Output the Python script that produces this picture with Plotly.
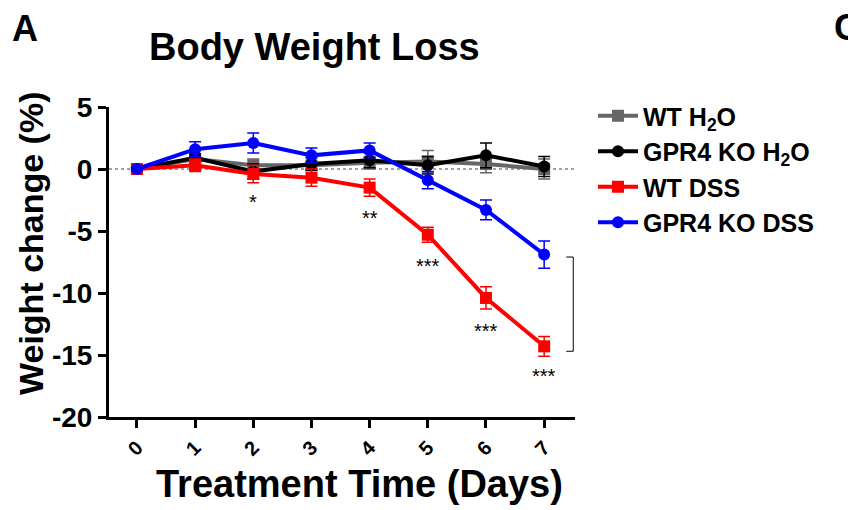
import plotly.graph_objects as go

days = [0, 1, 2, 3, 4, 5, 6, 7]
tick_labels = ["0", "1", "2", "3", "4", "5", "6", "7"]
y_ticks = [5, 0, -5, -10, -15, -20]
y_tick_labels = ["5", "0", "-5", "-10", "-15", "-20"]

wt_h2o = [0.0, 0.8, 0.3, 0.3, 0.5, 0.6, 0.4, 0.0]
wt_h2o_err = [0.1, 0.3, 0.5, 0.3, 0.5, 0.9, 0.7, 0.8]
ko_h2o = [0.0, 0.9, -0.2, 0.4, 0.7, 0.3, 1.1, 0.2]
ko_h2o_err = [0.1, 0.3, 0.6, 0.5, 0.6, 0.7, 1.0, 0.8]
wt_dss = [0.0, 0.3, -0.4, -0.7, -1.5, -5.3, -10.4, -14.3]
wt_dss_err = [0.2, 0.5, 0.7, 0.7, 0.7, 0.6, 0.9, 0.8]
ko_dss = [0.0, 1.6, 2.1, 1.1, 1.5, -0.9, -3.3, -6.9]
ko_dss_err = [0.1, 0.6, 0.8, 0.6, 0.6, 0.7, 0.8, 1.1]

sig_days = [2, 4, 5, 6, 7]
sig_y = [-2.7, -3.95, -7.8, -13.1, -16.7]
sig_text = ["*", "**", "***", "***", "***"]

FONT = "Liberation Sans, Arial, sans-serif"

series = [
    ("WT H<sub>2</sub>O", wt_h2o, wt_h2o_err, "#666666", "square"),
    ("GPR4 KO H<sub>2</sub>O", ko_h2o, ko_h2o_err, "#000000", "circle"),
    ("WT DSS", wt_dss, wt_dss_err, "#ff0000", "square"),
    ("GPR4 KO DSS", ko_dss, ko_dss_err, "#0000ff", "circle"),
]

# plot area in pixels
L, R, T, B = 109, 575, 107, 417
W, H = R - L, B - T


def px(xp):
    return (xp - L) / W


def py(yp):
    return (B - yp) / H


fig = go.Figure()
for name, vals, errs, color, sym in series:
    fig.add_trace(go.Scatter(
        x=days, y=vals, name=name, mode="lines+markers",
        line=dict(color=color, width=4),
        marker=dict(color=color, symbol=sym, size=12),
        error_y=dict(type="data", array=errs, visible=True, color=color, thickness=1.5, width=6),
    ))

# zero dotted line
fig.add_shape(type="line", xref="paper", x0=0, x1=1, yref="y", y0=0, y1=0,
              line=dict(color="#444444", width=1, dash="dot"), layer="below")

# significance stars
for d, yv, t in zip(sig_days, sig_y, sig_text):
    fig.add_annotation(x=d, y=yv, text=t, showarrow=False,
                       font=dict(family=FONT, size=20, color="black"))

# bracket at day 7
fig.add_shape(type="path", xref="x", yref="y",
              path="M 7.38,-7.1 L 7.5,-7.1 L 7.5,-14.7 L 7.38,-14.7",
              line=dict(color="black", width=1))

fig.update_layout(
    width=848, height=510,
    margin=dict(l=L, r=848 - R, t=T, b=510 - B, autoexpand=False),
    paper_bgcolor="white", plot_bgcolor="white",
    font=dict(family=FONT, color="black"),
    showlegend=True,
    legend=dict(x=px(593), y=py(93), xanchor="left", yanchor="top",
                font=dict(family=FONT, size=25, color="black", weight="bold"),
                bgcolor="rgba(0,0,0,0)", tracegroupgap=0, itemwidth=40),
)

fig.update_xaxes(
    range=[-0.48, 7.53], tickvals=days, ticktext=tick_labels, tickangle=-45,
    showline=True, linecolor="black", linewidth=3, mirror=False,
    ticks="outside", ticklen=8, tickwidth=3, tickcolor="black",
    showgrid=False, zeroline=False, automargin=False,
    tickfont=dict(family=FONT, size=20, color="black", weight="bold"),
)
fig.update_yaxes(
    range=[-20, 5], tickvals=y_ticks, ticktext=y_tick_labels,
    showline=True, linecolor="black", linewidth=3,
    ticks="outside", ticklen=8, tickwidth=3, tickcolor="black",
    showgrid=False, zeroline=False, automargin=False,
    tickfont=dict(family=FONT, size=28, color="black", weight="bold"),
)

# titles as annotations
fig.add_annotation(xref="paper", yref="paper", x=px(314), y=py(47),
                   text="<b>Body Weight Loss</b>", showarrow=False,
                   xanchor="center", yanchor="middle",
                   font=dict(family=FONT, size=38, color="black"))
fig.add_annotation(xref="paper", yref="paper", x=px(359), y=py(484),
                   text="<b>Treatment Time (Days)</b>", showarrow=False,
                   xanchor="center", yanchor="middle",
                   font=dict(family=FONT, size=38, color="black"))
fig.add_annotation(xref="paper", yref="paper", x=px(31), y=py(243),
                   text="<b>Weight change (%)</b>", showarrow=False, textangle=-90,
                   xanchor="center", yanchor="middle",
                   font=dict(family=FONT, size=34, color="black"))
fig.add_annotation(xref="paper", yref="paper", x=px(10), y=py(29),
                   text="<b>A</b>", showarrow=False, xanchor="left", yanchor="middle",
                   font=dict(family=FONT, size=36, color="black"))
fig.add_annotation(xref="paper", yref="paper", x=px(832), y=py(27),
                   text="<b>C</b>", showarrow=False, xanchor="left", yanchor="middle",
                   font=dict(family=FONT, size=36, color="black"))

fig.write_html("out.html", config={"displayModeBar": False},
               post_script="document.body.style.margin='0';document.body.style.overflow='hidden';")
